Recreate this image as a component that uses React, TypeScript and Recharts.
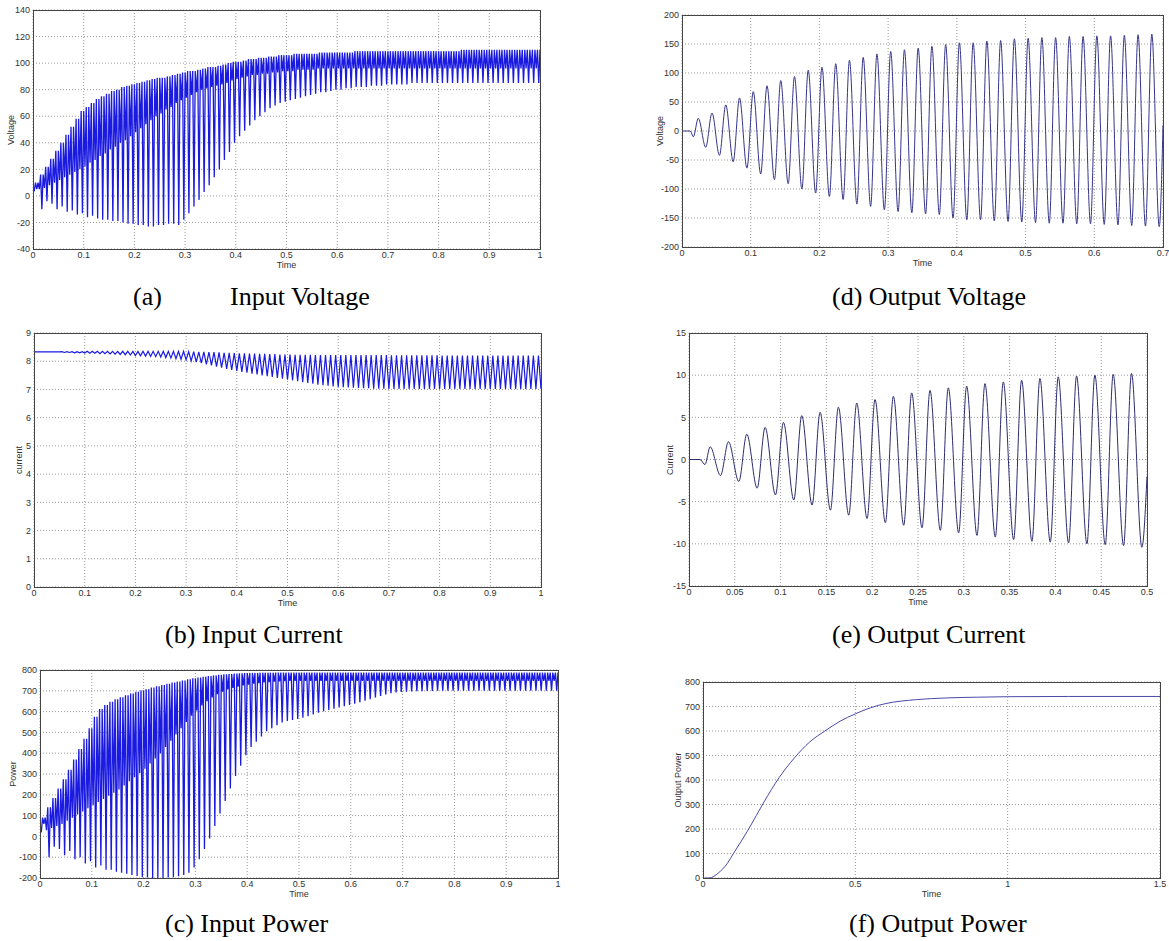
import { CartesianGrid, Line, LineChart, XAxis, YAxis } from 'recharts'

type Pt = { t: number; v: number }

// (a) input voltage: per 10 ms ripple period a peak, a shallow dip and a deep dip
const A_PEAKS = [
  10, 16, 22, 28, 34, 40, 46, 52, 58, 64,
  67, 70, 73, 75, 77, 79, 80, 82, 83, 84,
  85, 86, 87, 88, 89, 89, 90, 91, 92, 93,
  94, 94, 95, 96, 97, 97, 98, 99, 100, 101,
  101, 102, 103, 103, 104, 104, 105, 105, 106, 106,
  106, 107, 107, 107, 107, 107, 108, 108, 108, 108,
  108, 108, 108, 109, 109, 109, 109, 109, 109, 109,
  109, 109, 109, 109, 109, 109, 109, 109, 109, 109,
  109, 109, 109, 109, 110, 110, 110, 110, 110, 110,
  110, 110, 110, 110, 110, 110, 110, 110, 110, 110,
]
const A_SHALLOW = [
  4, 5, 6, 8, 10, 12, 14, 16, 18, 20,
  22, 25, 27, 30, 32, 35, 37, 40, 42, 45,
  48, 51, 54, 57, 60, 62, 65, 67, 70, 72,
  74, 76, 78, 80, 81, 82, 83, 84, 85, 87,
  88, 89, 90, 91, 91, 92, 92, 93, 93, 94,
  94, 94, 95, 95, 95, 95, 96, 96, 96, 96,
  96, 96, 96, 96, 96, 96, 96, 96, 96, 96,
  96, 96, 96, 96, 96, 96, 96, 96, 96, 96,
  96, 96, 96, 96, 96, 96, 96, 96, 96, 96,
  96, 96, 96, 96, 96, 96, 96, 96, 96, 96,
]
const A_DIPS = [
  5, -10, -4, -6, -10, -8, -12, -11, -14, -13,
  -16, -15, -17, -18, -18, -19, -19, -20, -21, -21,
  -22, -22, -23, -23, -22, -22, -21, -21, -22, -18,
  -13, -8, -3, 3, 8, 14, 20, 27, 33, 40,
  45, 49, 53, 57, 60, 63, 66, 68, 70, 71,
  72, 73, 74, 75, 76, 77, 78, 78, 79, 80,
  80, 81, 81, 82, 82, 82, 83, 83, 83, 84,
  84, 84, 84, 84, 85, 85, 85, 85, 85, 85,
  85, 85, 85, 85, 85, 85, 85, 85, 85, 85,
  85, 85, 85, 85, 85, 85, 85, 85, 85, 85,
]

// (b) input current ripple, starts after 0.05 s
const B_PEAKS = [
  8.34, 8.34, 8.34, 8.34, 8.34,
  8.35, 8.35, 8.35, 8.35, 8.35, 8.35, 8.35, 8.35, 8.35, 8.35,
  8.35, 8.35, 8.35, 8.35, 8.35, 8.35, 8.35, 8.35, 8.35, 8.35,
  8.34, 8.34, 8.33, 8.33, 8.32, 8.32, 8.31, 8.3, 8.3, 8.29,
  8.28, 8.28, 8.27, 8.27, 8.26, 8.26, 8.25, 8.25, 8.24, 8.24,
  8.24, 8.23, 8.23, 8.23, 8.23, 8.22, 8.22, 8.22, 8.22, 8.22,
  8.22, 8.22, 8.22, 8.22, 8.22, 8.22, 8.22, 8.22, 8.22, 8.22,
  8.21, 8.21, 8.21, 8.21, 8.21, 8.21, 8.21, 8.21, 8.21, 8.21,
  8.2, 8.2, 8.2, 8.2, 8.2, 8.2, 8.2, 8.2, 8.2, 8.2,
  8.2, 8.2, 8.2, 8.2, 8.2, 8.2, 8.2, 8.2, 8.2, 8.2,
]
const B_DIPS = [
  8.31, 8.31, 8.3, 8.3, 8.29,
  8.28, 8.28, 8.27, 8.27, 8.26, 8.25, 8.24, 8.23, 8.22, 8.2,
  8.19, 8.18, 8.17, 8.16, 8.15, 8.13, 8.11, 8.09, 8.07, 8.05,
  8.01, 7.97, 7.93, 7.89, 7.85, 7.81, 7.77, 7.73, 7.69, 7.66,
  7.62, 7.59, 7.56, 7.53, 7.5, 7.47, 7.44, 7.41, 7.38, 7.35,
  7.32, 7.29, 7.26, 7.23, 7.2, 7.17, 7.15, 7.13, 7.11, 7.09,
  7.08, 7.07, 7.06, 7.05, 7.04, 7.04, 7.03, 7.03, 7.03, 7.02,
  7.02, 7.02, 7.02, 7.02, 7.02, 7.02, 7.02, 7.02, 7.02, 7.02,
  7.02, 7.02, 7.02, 7.02, 7.02, 7.02, 7.02, 7.02, 7.02, 7.02,
  7.02, 7.02, 7.02, 7.02, 7.02, 7.02, 7.02, 7.02, 7.02, 7.02,
]

// (c) input power
const C_PEAKS = [
  90, 140, 185, 230, 275, 320, 370, 420, 470, 520,
  575, 612, 632, 647, 659, 669, 678, 687, 695, 702,
  708, 716, 722, 728, 734, 740, 745, 750, 755, 760,
  764, 768, 771, 774, 777, 779, 781, 783, 784, 785,
  786, 786, 787, 787, 787, 788, 788, 788, 788, 788,
  788, 788, 788, 788, 788, 788, 788, 788, 788, 788,
  788, 788, 788, 788, 788, 788, 788, 788, 788, 788,
  788, 788, 788, 788, 788, 788, 788, 788, 788, 788,
  788, 788, 788, 788, 788, 788, 788, 788, 788, 788,
  788, 788, 788, 788, 788, 788, 788, 788, 788, 788,
]
const C_SHALLOW = [
  20, 30, 40, 50, 60, 75, 90, 105, 120, 135,
  150, 165, 180, 195, 210, 225, 245, 265, 285, 305,
  325, 350, 375, 400, 430, 460, 490, 520, 550, 580,
  605, 630, 650, 668, 684, 696, 706, 714, 720, 726,
  730, 734, 737, 740, 742, 744, 745, 746, 747, 748,
  748, 748, 748, 748, 748, 748, 748, 748, 748, 748,
  748, 748, 748, 748, 748, 748, 748, 748, 748, 748,
  748, 748, 748, 748, 748, 748, 748, 748, 748, 748,
  748, 748, 748, 748, 748, 748, 748, 748, 748, 748,
  748, 748, 748, 748, 748, 748, 748, 748, 748, 748,
]
const C_DIPS = [
  60, -100, -50, -60, -90, -70, -110, -100, -130, -120,
  -150, -140, -160, -160, -170, -175, -180, -185, -190, -195,
  -198, -200, -200, -200, -198, -196, -192, -185, -175, -150,
  -110, -60, -10, 50, 110, 170, 230, 290, 340, 390,
  430, 455, 480, 505, 520, 535, 548, 555, 560, 565,
  570, 578, 586, 594, 602, 608, 614, 620, 626, 632,
  638, 645, 652, 660, 668, 675, 682, 688, 692, 695,
  696, 697, 698, 698, 699, 699, 700, 700, 700, 700,
  700, 700, 700, 700, 700, 700, 700, 700, 700, 700,
  700, 700, 700, 700, 700, 700, 700, 700, 700, 700,
]

// (d) output voltage, 50 Hz peaks and troughs
const D_PEAKS = [
  22, 31, 45, 57, 68, 78, 87, 94, 105, 110,
  116, 122, 127, 133, 137, 140, 143, 146, 149, 152,
  152, 155, 156, 159, 160, 161, 161, 163, 163, 164,
  164, 165, 166, 167,
]
const D_TROUGHS = [
  -28, -42, -53, -64, -74, -84, -91, -100, -107, -113,
  -118, -126, -130, -136, -139, -141, -143, -144, -150, -153,
  -153, -155, -156, -157, -158, -159, -159, -160, -160, -161,
  -162, -163, -164, -165,
]

// (e) output current
const E_PEAKS = [
  1.5, 2.1, 3.0, 3.8, 4.4, 5.2, 5.6, 6.2, 6.7, 7.1,
  7.5, 7.9, 8.2, 8.5, 8.7, 9.0, 9.2, 9.4, 9.6, 9.8,
  9.9, 10.0, 10.1, 10.2,
]
const E_TROUGHS = [
  -1.9, -2.6, -3.4, -4.2, -4.8, -5.4, -6.0, -6.6, -7.0, -7.5,
  -7.8, -8.1, -8.4, -8.7, -9.0, -9.2, -9.5, -9.7, -9.8, -9.9,
  -10.0, -10.1, -10.2, -10.4,
]

// (f) output power
const F_TIME = [0, 0.02, 0.05, 0.08, 0.1, 0.15, 0.2, 0.25, 0.3, 0.35, 0.4, 0.45, 0.5, 0.55, 0.6, 0.7, 0.8, 0.9, 1.0, 1.2, 1.5]
const F_POWER = [0, 0, 20, 60, 100, 200, 310, 410, 490, 555, 600, 640, 670, 695, 712, 728, 735, 738, 740, 741, 741]

const TICKS_0_1 = [0, 0.1, 0.2, 0.3, 0.4, 0.5, 0.6, 0.7, 0.8, 0.9, 1]
const TICKS_0_07 = [0, 0.1, 0.2, 0.3, 0.4, 0.5, 0.6, 0.7]
const TICKS_0_05 = [0, 0.05, 0.1, 0.15, 0.2, 0.25, 0.3, 0.35, 0.4, 0.45, 0.5]
const TICKS_0_15 = [0, 0.5, 1, 1.5]
const A_YTICKS = [-40, -20, 0, 20, 40, 60, 80, 100, 120, 140]
const B_YTICKS = [0, 1, 2, 3, 4, 5, 6, 7, 8, 9]
const C_YTICKS = [-200, -100, 0, 100, 200, 300, 400, 500, 600, 700, 800]
const D_YTICKS = [-200, -150, -100, -50, 0, 50, 100, 150, 200]
const E_YTICKS = [-15, -10, -5, 0, 5, 10, 15]
const F_YTICKS = [0, 100, 200, 300, 400, 500, 600, 700, 800]

type Track = { values: number[]; t0: number; step: number }

// merge several evenly spaced extreme-value lists into one time-ordered trace
function trace(lead: Pt[], tracks: Track[], tail: Pt[] = []) {
  const pts: Pt[] = []
  tracks.forEach(({ values, t0, step }) => values.forEach((v, k) => pts.push({ t: t0 + step * k, v })))
  pts.sort((a, b) => a.t - b.t)
  return [...lead, ...pts, ...tail]
}

const aData = trace([{ t: 0, v: 125 }, { t: 0, v: 3 }], [
  { values: A_SHALLOW, t0: 0.0025, step: 0.01 },
  { values: A_PEAKS, t0: 0.005, step: 0.01 },
  { values: A_DIPS, t0: 0.0075, step: 0.01 },
  { values: A_PEAKS, t0: 0.01, step: 0.01 },
])
const bData = trace([{ t: 0, v: 0 }, { t: 0, v: 8.33 }, { t: 0.05, v: 8.33 }], [
  { values: B_PEAKS, t0: 0.055, step: 0.01 },
  { values: B_DIPS, t0: 0.06, step: 0.01 },
])
const cData = trace([{ t: 0, v: 780 }, { t: 0, v: 40 }], [
  { values: C_SHALLOW, t0: 0.0025, step: 0.01 },
  { values: C_PEAKS, t0: 0.005, step: 0.01 },
  { values: C_DIPS, t0: 0.0075, step: 0.01 },
  { values: C_PEAKS, t0: 0.01, step: 0.01 },
])
const dData = trace([{ t: 0, v: 0 }, { t: 0.012, v: 0 }, { t: 0.0165, v: -10 }], [
  { values: D_PEAKS, t0: 0.0237, step: 0.02 },
  { values: D_TROUGHS, t0: 0.0345, step: 0.02 },
], [{ t: 0.7, v: 10 }])
const eData = trace([{ t: 0, v: 0 }, { t: 0.012, v: 0 }, { t: 0.0174, v: -0.6 }], [
  { values: E_PEAKS, t0: 0.0231, step: 0.02 },
  { values: E_TROUGHS, t0: 0.0344, step: 0.02 },
], [{ t: 0.5, v: -2 }])
const fData = F_TIME.map((t, i) => ({ t, v: F_POWER[i] }))

const tickStyle = { fontSize: 9, fill: '#333', fontFamily: 'Liberation Sans' }

interface PanelProps {
  box: [number, number, number, number]
  data: Pt[]
  xTicks: number[]
  yTicks: number[]
  yLabel: string
  yLabelGap: number
  color: string
  curve: 'linear' | 'monotone'
  strokeWidth?: number
}

function Panel({ box, data, xTicks, yTicks, yLabel, yLabelGap, color, curve, strokeWidth = 1 }: PanelProps) {
  const [l, t, r, b] = box
  const w = r - l
  const h = b - t
  const padL = 30, padR = 6, padT = 6, padB = 14
  return (
    <>
      <div style={{ position: 'absolute', left: l - padL, top: t - padT }}>
        <LineChart width={w + padL + padR} height={h + padT + padB} data={data} margin={{ top: padT, right: padR, left: 0, bottom: 0 }}>
          <CartesianGrid stroke="#9a9a9a" strokeDasharray="1 2" />
          <XAxis dataKey="t" type="number" domain={[xTicks[0], xTicks[xTicks.length - 1]]} ticks={xTicks} interval={0}
            height={padB} axisLine={false} tickLine={false} tickSize={2} tickMargin={1} tick={tickStyle} allowDataOverflow />
          <YAxis type="number" domain={[yTicks[0], yTicks[yTicks.length - 1]]} ticks={yTicks} interval={0}
            width={padL} axisLine={false} tickLine={false} tickSize={2} tickMargin={1} tick={tickStyle} allowDataOverflow />
          <Line type={curve} dataKey="v" stroke={color} strokeWidth={strokeWidth} dot={false} isAnimationActive={false} />
        </LineChart>
      </div>
      <div style={{ position: 'absolute', left: l, top: t, width: w + 1, height: h + 1, border: '1px solid #444', boxSizing: 'border-box', pointerEvents: 'none' }} />
      <div style={{ position: 'absolute', left: l + w / 2, top: b + 11, transform: 'translateX(-50%)', fontSize: 9, lineHeight: '11px', color: '#333', fontFamily: 'Liberation Sans' }}>
        Time
      </div>
      <div style={{ position: 'absolute', left: l - yLabelGap, top: t + h / 2, transform: 'translate(-50%, -50%) rotate(-90deg)', fontSize: 9, lineHeight: '11px', color: '#333', fontFamily: 'Liberation Sans', whiteSpace: 'nowrap' }}>
        {yLabel}
      </div>
    </>
  )
}

function Caption({ left, cy, children }: { left: number; cy: number; children: React.ReactNode }) {
  return (
    <div style={{ position: 'absolute', left, top: cy - 15, fontSize: 26, lineHeight: '30px', whiteSpace: 'pre', fontFamily: '"Liberation Serif", serif', color: '#000' }}>
      {children}
    </div>
  )
}

export default function App() {
  return (
    <div style={{ position: 'absolute', left: 0, top: 0, width: 1169, height: 941, background: '#fff', overflow: 'hidden' }}>
      <Panel box={[33, 10, 540, 249]} data={aData} xTicks={TICKS_0_1} yTicks={A_YTICKS} yLabel="Voltage" yLabelGap={22} color="#1a1ae0" curve="linear" strokeWidth={1.3} />
      <Panel box={[682, 15, 1163, 247]} data={dData} xTicks={TICKS_0_07} yTicks={D_YTICKS} yLabel="Voltage" yLabelGap={22} color="#35358a" curve="monotone" />
      <Panel box={[34, 333, 541, 587]} data={bData} xTicks={TICKS_0_1} yTicks={B_YTICKS} yLabel="current" yLabelGap={15} color="#1a1ae0" curve="linear" strokeWidth={1.2} />
      <Panel box={[689, 333, 1147, 586]} data={eData} xTicks={TICKS_0_05} yTicks={E_YTICKS} yLabel="Current" yLabelGap={19} color="#2c2c70" curve="monotone" />
      <Panel box={[40, 670, 558, 878]} data={cData} xTicks={TICKS_0_1} yTicks={C_YTICKS} yLabel="Power" yLabelGap={27} color="#1a1ae0" curve="linear" strokeWidth={1.3} />
      <Panel box={[703, 682, 1160, 878]} data={fData} xTicks={TICKS_0_15} yTicks={F_YTICKS} yLabel="Output Power" yLabelGap={25} color="#4a4aa8" curve="monotone" />

      <Caption left={133} cy={297}>(a)</Caption>
      <Caption left={230} cy={297}>Input Voltage</Caption>
      <Caption left={832} cy={297}>(d) Output Voltage</Caption>
      <Caption left={165} cy={635}>(b) Input Current</Caption>
      <Caption left={832} cy={635}>(e) Output Current</Caption>
      <Caption left={165} cy={924}>(c) Input Power</Caption>
      <Caption left={849} cy={924}>(f) Output Power</Caption>
    </div>
  )
}
